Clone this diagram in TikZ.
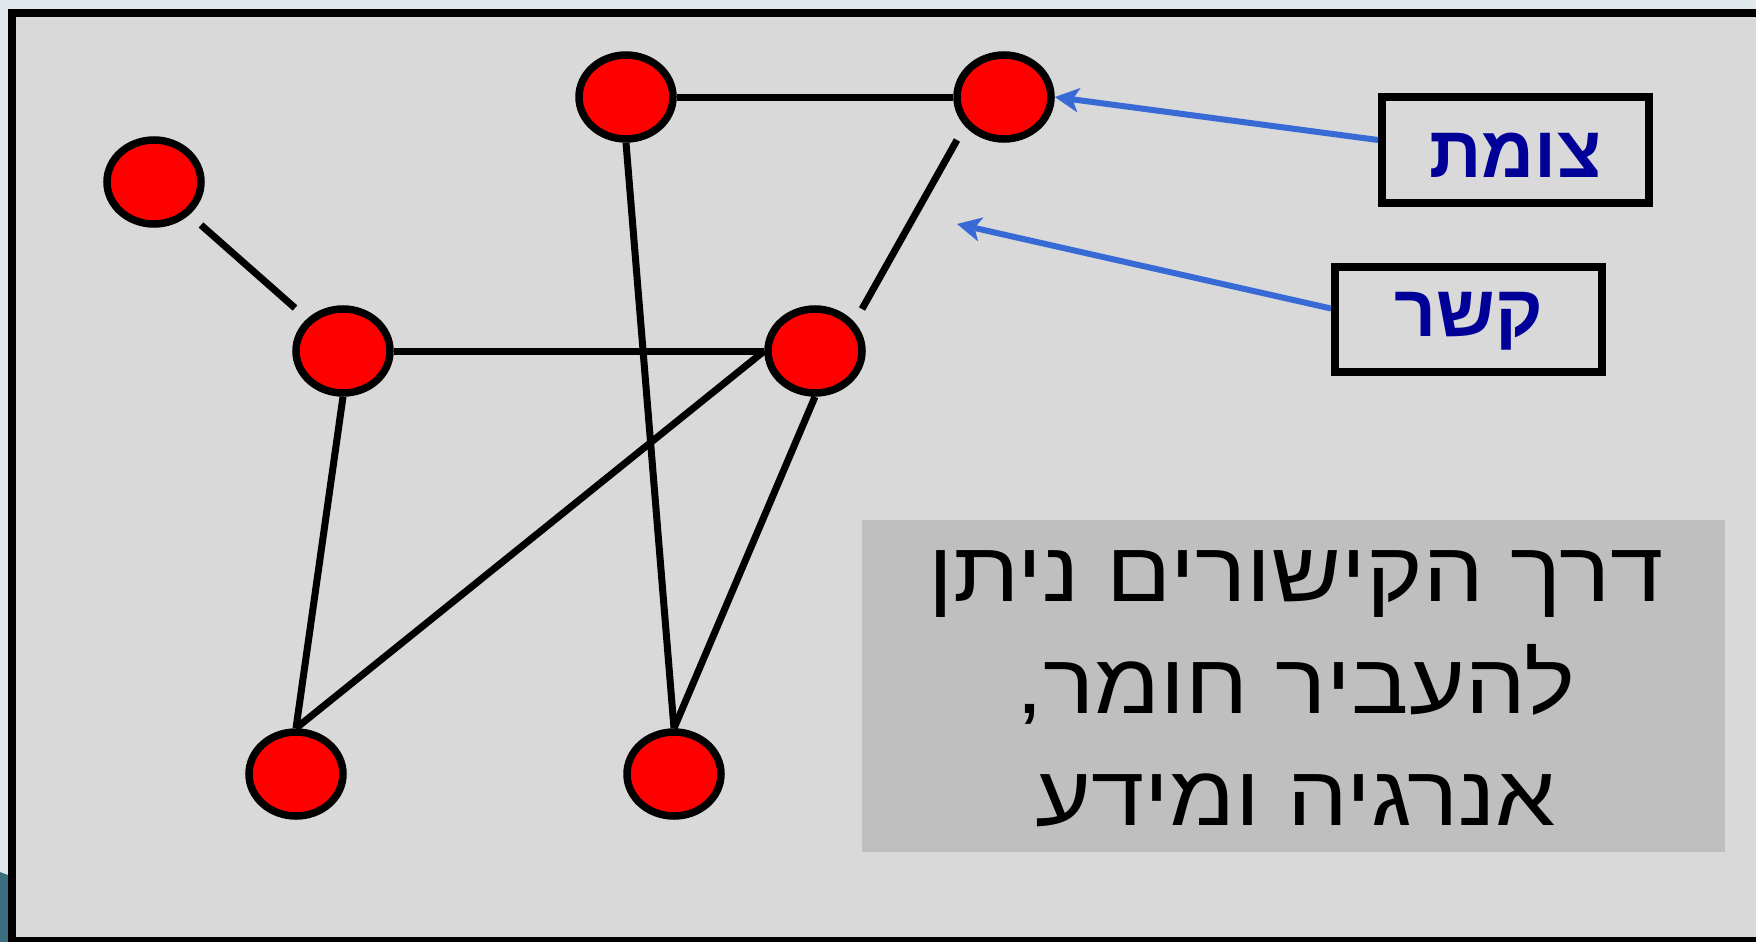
\documentclass[tikz,border=0pt]{standalone}
\usepackage{fontspec}
\setmainfont{Liberation Sans}
\newfontfamily\hebfont[Script=Hebrew]{Liberation Sans}
\newfontfamily\hebwide[Script=Hebrew,FakeStretch=1.13]{Liberation Sans}
\TeXXeTstate=1
\usetikzlibrary{shapes.geometric,arrows.meta,calc}
\definecolor{outerbg}{HTML}{E0E8EC}
\definecolor{panel}{HTML}{D9D9D9}
\definecolor{textbox}{HTML}{BFBFBF}
\definecolor{patch}{HTML}{3B6E7E}
\definecolor{arrowblue}{RGB}{56,106,214}
\definecolor{labelblue}{HTML}{000099}
\tikzset{
  vert/.style={ellipse, draw=black, fill=red, line width=7.5pt, minimum width=94pt, minimum height=84pt, inner sep=0pt},
  edge/.style={draw=black, line width=7pt},
  lbox/.style={draw=black, line width=8pt, minimum width=267pt, inner sep=0pt},
  lbltext/.style={text=labelblue, inner sep=0pt, font=\hebfont\bfseries\fontsize{73}{76}\selectfont},
  pointer/.style={draw=arrowblue, line width=6pt, -{Stealth[length=24pt,width=24pt,inset=6pt]}},
}
\begin{document}
\begin{tikzpicture}[x=1pt,y=-1pt]
\useasboundingbox (0,0) rectangle (1756,942);
\clip (0,0) rectangle (1756,942);
\fill[outerbg] (0,0) rectangle (1756,942);
\fill[patch] (0,872) -- (8,875) -- (8,942) -- (0,942) -- cycle;
\draw[line width=8pt, fill=panel] (12,13) rectangle (1790,941);
% nodes
\node[vert] (A) at (154,182) {};
\node[vert] (B) at (343,351) {};
\node[vert] (C) at (626,97) {};
\node[vert] (D) at (1004,97) {};
\node[vert] (E) at (815,351) {};
\node[vert] (F) at (296,774) {};
\node[vert] (G) at (674,774) {};
% edges
\draw[edge] ($(A)+(47,43)$) -- ($(B)+(-48,-43)$);
\draw[edge] (C) -- (D);
\draw[edge] (C.south) -- (G.north);
\draw[edge] ($(D)+(-47,43)$) -- ($(E)+(47,-42)$);
\draw[edge] (B) -- (E);
\draw[edge] (B.south) -- (F.north);
\draw[edge] (E.west) -- (F.north);
\draw[edge] (E.south) -- (G.north);
% label boxes
\node[lbox, minimum height=106pt] (tz) at (1515.5,150) {};
\node[lbltext] (tzt) at (1515.5,155) {\beginR צומת\endR};
\node[lbox, minimum height=105pt] (ks) at (1468.5,319.5) {};
\node[lbltext, anchor=north] (kst) at (1468.5,292) {\beginR קשר\endR};
\coordinate (kstip) at (957,224);
\draw[pointer] ([yshift=10pt]tz.west) -- (D.east);
\draw[pointer] ([yshift=11pt]ks.west) -- (kstip);
% text box
\node[fill=textbox, minimum width=863pt, minimum height=332pt, inner sep=0pt] (gbox) at (1293.5,686) {};
\node[align=center, inner sep=0pt, font=\hebwide\fontsize{85}{112}\selectfont] (txt) at (1296,689) {\beginR דרך הקישורים ניתן\endR\\ \beginR להעביר חומר,\endR\\ \beginR אנרגיה ומידע\endR};
\end{tikzpicture}
\end{document}
